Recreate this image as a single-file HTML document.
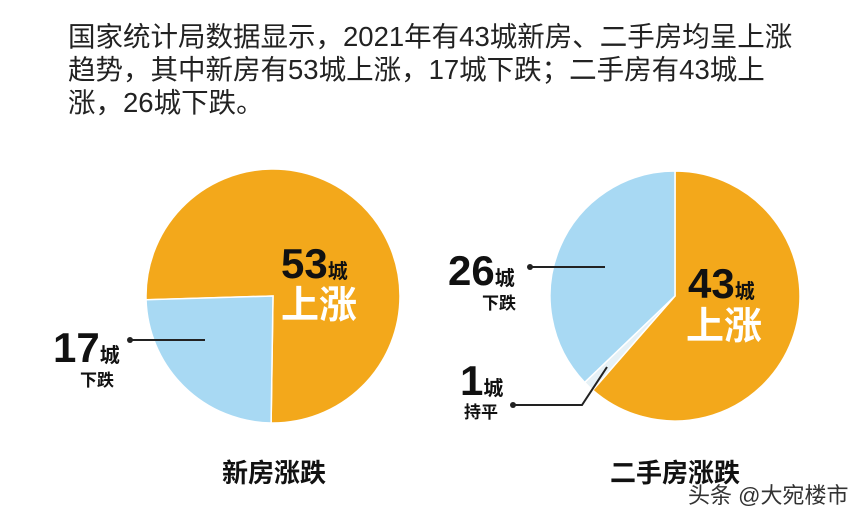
<!DOCTYPE html>
<html><head><meta charset="utf-8"><style>
body{margin:0;background:#fff;width:860px;height:526px;overflow:hidden;font-family:"Liberation Sans","Noto Sans CJK SC",sans-serif}
.t{position:absolute;left:68px;font-size:27.5px;color:#222;line-height:33px;top:20px;width:790px;white-space:nowrap}
</style></head><body>
<div class="t">国家统计局数据显示，2021年有43城新房、二手房均呈上涨<br>趋势，其中新房有53城上涨，17城下跌；二手房有43城上<br>涨，26城下跌。</div>
<svg width="860" height="526" style="position:absolute;left:0;top:0">
<g id="g"></g>
<g font-family="Liberation Sans, Noto Sans CJK SC, sans-serif" font-weight="bold">
<text x="281" y="278" font-size="42" fill="#111">53<tspan font-size="20">城</tspan></text>
<text x="281" y="318" font-size="38" fill="#fff">上涨</text>
<text x="53" y="362" font-size="42" fill="#111">17<tspan font-size="20">城</tspan></text>
<text x="80" y="386" font-size="17" fill="#111">下跌</text>
<text x="688" y="298" font-size="42" fill="#111">43<tspan font-size="20">城</tspan></text>
<text x="686" y="339" font-size="38" fill="#fff">上涨</text>
<text x="448" y="285" font-size="42" fill="#111">26<tspan font-size="20">城</tspan></text>
<text x="482" y="309" font-size="17" fill="#111">下跌</text>
<text x="460" y="395" font-size="42" fill="#111">1<tspan font-size="20">城</tspan></text>
<text x="464" y="418" font-size="17" fill="#111">持平</text>
<text x="222" y="482" font-size="26" fill="#111">新房涨跌</text>
<text x="610" y="482" font-size="26" fill="#111">二手房涨跌</text>
</g>
<g stroke="#222" stroke-width="2" fill="none">
<line x1="130" y1="340" x2="205" y2="340"/><line x1="530" y1="267" x2="605" y2="267"/>
<polyline points="513,405 582,405 607,367"/></g>
<g fill="#222"><circle cx="130" cy="340" r="3"/><circle cx="530" cy="267" r="3"/><circle cx="513" cy="405" r="3"/></g>
<text x="688" y="503" font-size="22" fill="#333" font-family="Liberation Sans, Noto Sans CJK SC, sans-serif">头条 @大宛楼市</text>
</svg>
<script>
const newLabels=["上涨","下跌"];
const newValues=[53,17];
const secLabels=["上涨","持平","下跌"];
const secValues=[43,1,26];
const colorsNew=["#F3A81B","#A8D9F3"];
const colorsSec=["#F3A81B","#E6F1F6","#A8D9F3"];
const g=document.getElementById('g');
function pie(vals,cols,cx,cy,r,start,name){
  const tot=vals.reduce((a,b)=>a+b,0);let a=start;
  vals.forEach((v,i)=>{
    const a2=a+v/tot*2*Math.PI;
    const x1=cx+r*Math.sin(a),y1=cy-r*Math.cos(a),x2=cx+r*Math.sin(a2),y2=cy-r*Math.cos(a2);
    const p=document.createElementNS('http://www.w3.org/2000/svg','path');
    p.setAttribute('d',`M${cx},${cy}L${x1},${y1}A${r},${r} 0 ${a2-a>Math.PI?1:0} 1 ${x2},${y2}Z`);
    p.setAttribute('fill',cols[i]);p.setAttribute('stroke','#fff');p.setAttribute('stroke-width','1.5');
    
    
    g.appendChild(p);a=a2;});
}
pie(newValues,colorsNew,273,296,127,-Math.PI/2-0.03,'new-house');
pie(secValues,colorsSec,675,296,125,0,'second-house');
</script>
</body></html>
